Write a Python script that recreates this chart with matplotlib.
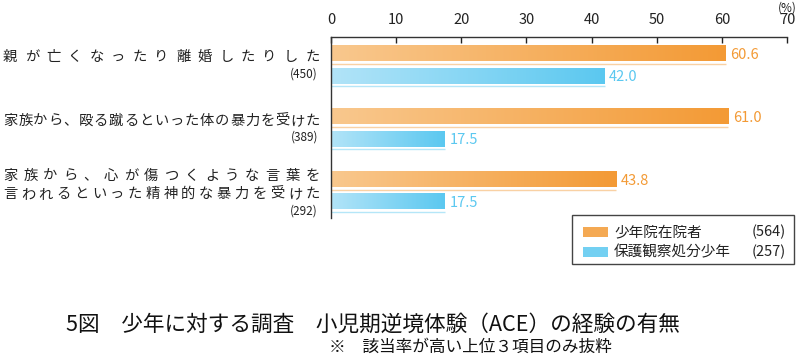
"""
5図 少年に対する調査 小児期逆境体験（ACE）の経験の有無
"""
import matplotlib
matplotlib.use('Agg')
import matplotlib.pyplot as plt
from matplotlib.colors import LinearSegmentedColormap
from matplotlib.patches import Rectangle
import numpy as np

plt.rcParams['font.family'] = ['Noto Sans CJK JP', 'DejaVu Sans']

# data
categories = [
    ['親が亡くなったり離婚したりした'],
    ['家族から、殴る蹴るといった体の暴力を受けた'],
    ['家族から、心が傷つくような言葉を', '言われるといった精神的な暴力を受けた'],
]
category_counts = ['(450)', '(389)', '(292)']
in_school = [60.6, 61.0, 43.8]       # 少年院在院者
probation = [42.0, 17.5, 17.5]       # 保護観察処分少年
series_names = ['少年院在院者', '保護観察処分少年']
series_counts = ['(564)', '(257)']
xticks = [0, 10, 20, 30, 40, 50, 60, 70]

ORANGE = '#F39A35'
BLUE = '#5BC8F0'
orange_cmap = LinearSegmentedColormap.from_list('o', ['#F9C88E', '#F39A35'])
blue_cmap = LinearSegmentedColormap.from_list('b', ['#B2E4F8', '#5BC8F0'])

W, H = 800, 356
fig = plt.figure(figsize=(8, 3.56), dpi=100)


def px(x, y):
    """pixel position -> figure fraction"""
    return x / W, 1 - y / H


ax = fig.add_axes([331 / W, 1 - 218 / H, 456 / W, 181 / H])

bar_h = 0.24
offset = 0.175
grad = np.linspace(0, 1, 256).reshape(1, -1)

for i in range(len(categories)):
    for val, off, cmap, col in [(in_school[i], -offset, orange_cmap, ORANGE),
                                (probation[i], offset, blue_cmap, BLUE)]:
        y = i + off
        ax.imshow(grad, cmap=cmap, aspect='auto', interpolation='bilinear',
                  extent=[0, val, y + bar_h / 2, y - bar_h / 2], zorder=2)
        ax.plot([0, val], [y + bar_h / 2 + 0.035] * 2, color=col, alpha=0.45,
                lw=1.0, solid_capstyle='butt', zorder=2)
        ax.text(val + 0.7, y + 0.01, f'{val:.1f}', color=col, fontsize=10.5,
                va='center', ha='left')

ax.set_xlim(0, 70)
ax.set_ylim(2.43, -0.444)
ax.set_yticks([])
ax.xaxis.tick_top()
ax.set_xticks(xticks)
ax.tick_params(axis='x', direction='in', length=4, width=1, pad=7,
               labelsize=10.5, colors='#222222')
for s in ['right', 'bottom']:
    ax.spines[s].set_visible(False)
for s in ['left', 'top']:
    ax.spines[s].set_color('#333333')
    ax.spines[s].set_linewidth(1.0)

fig.text(*px(797, 8), '(%)', fontsize=8.5, ha='right', va='center', color='#222222')


def spread(text, x0, x1, y, size):
    """place characters evenly between x0 and x1 (pixels)"""
    w = size * 100 / 72
    n = len(text)
    xs = np.linspace(x0 + w / 2, x1 - w / 2, n)
    for ch, x in zip(text, xs):
        fig.text(*px(x, y), ch, fontsize=size, ha='center', va='center',
                 color='#222222')


label_rows = [[57], [121], [176, 194]]
count_rows = [74, 137, 211]
for lines, ys, cnt, cy in zip(categories, label_rows, category_counts, count_rows):
    for line, y in zip(lines, ys):
        spread(line, 3, 320, y, 10.3)
    fig.text(*px(318, cy), cnt, fontsize=8.5, ha='right', va='center', color='#222222')

# legend
lx0, ly0, lx1, ly1 = 572, 215, 794, 264
fig.patches.append(Rectangle(px(lx0, ly1), (lx1 - lx0) / W, (ly1 - ly0) / H,
                             transform=fig.transFigure, fill=False,
                             edgecolor='#444444', lw=1.0))
for k, (name, cnt, col) in enumerate(zip(series_names, series_counts, [ORANGE, BLUE])):
    yc = 232 + k * 20
    fig.patches.append(Rectangle(px(583, yc + 5), 25 / W, 10 / H,
                                 transform=fig.transFigure, facecolor=col,
                                 edgecolor='none', alpha=0.85))
    fig.text(*px(614, yc), name, fontsize=10.5, ha='left', va='center', color='#222222')
    fig.text(*px(786, yc), cnt, fontsize=10.5, ha='right', va='center', color='#222222')

fig.text(*px(66, 325), '5図\u3000少年に対する調査\u3000小児期逆境体験（ACE）の経験の有無',
         fontsize=15.6, ha='left', va='center', color='#111111')
fig.text(*px(329, 347), '※\u3000該当率が高い上位３項目のみ抜粋',
         fontsize=12, ha='left', va='center', color='#111111')

fig.savefig('out.png', dpi=100)
